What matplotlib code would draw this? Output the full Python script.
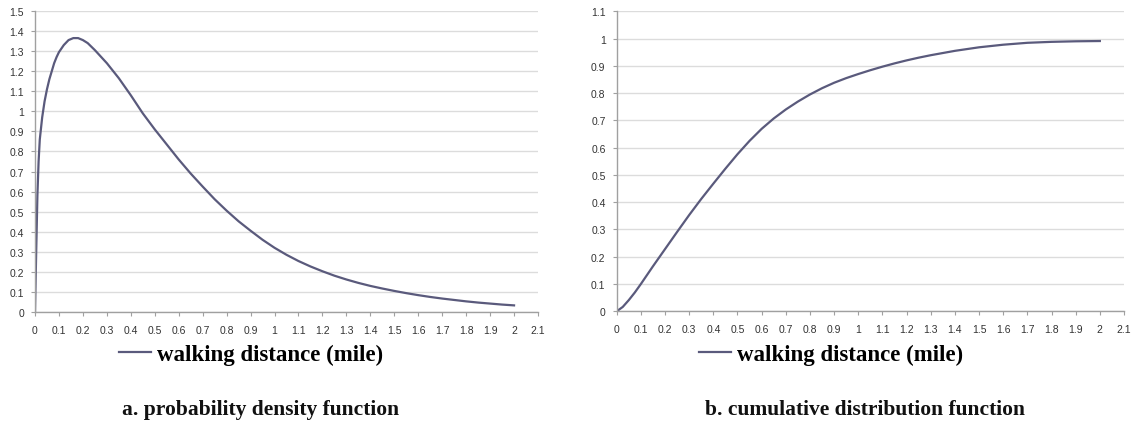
import matplotlib
matplotlib.use("Agg")
import matplotlib.pyplot as plt
from matplotlib.ticker import MultipleLocator, FuncFormatter

# ---- data ----
pdf_x = [0, 0.005, 0.01, 0.015, 0.02, 0.03, 0.04, 0.05, 0.06, 0.07, 0.08, 0.09,
         0.10, 0.12, 0.14, 0.16, 0.18, 0.20, 0.22, 0.25, 0.30, 0.35, 0.40,
         0.45, 0.50, 0.55, 0.60, 0.65, 0.70, 0.75, 0.80, 0.85, 0.90, 0.95,
         1.00, 1.05, 1.10, 1.15, 1.20, 1.25, 1.30, 1.35, 1.40, 1.45, 1.50,
         1.55, 1.60, 1.65, 1.70, 1.75, 1.80, 1.85, 1.90, 1.95, 2.00]
pdf_y = [0, 0.30, 0.58, 0.75, 0.86, 0.97, 1.05, 1.11, 1.16, 1.20, 1.24, 1.27,
         1.295, 1.33, 1.355, 1.365, 1.365, 1.355, 1.34, 1.305, 1.24, 1.165,
         1.08, 0.99, 0.91, 0.835, 0.76, 0.69, 0.625, 0.562, 0.505, 0.452,
         0.405, 0.36, 0.32, 0.285, 0.254, 0.227, 0.203, 0.181, 0.162, 0.145,
         0.130, 0.117, 0.105, 0.094, 0.084, 0.075, 0.067, 0.060, 0.053,
         0.047, 0.042, 0.037, 0.033]

cdf_x = [0, 0.025, 0.05, 0.075, 0.10, 0.15, 0.20, 0.25, 0.30, 0.35, 0.40, 0.45,
         0.50, 0.55, 0.60, 0.65, 0.70, 0.75, 0.80, 0.85, 0.90, 0.95, 1.00,
         1.05, 1.10, 1.15, 1.20, 1.25, 1.30, 1.40, 1.50, 1.60, 1.70, 1.80,
         1.90, 2.00]
cdf_y = [0, 0.016, 0.041, 0.069, 0.10, 0.165, 0.228, 0.291, 0.353, 0.412,
         0.468, 0.523, 0.576, 0.625, 0.669, 0.707, 0.740, 0.769, 0.795,
         0.818, 0.838, 0.855, 0.870, 0.884, 0.897, 0.909, 0.920, 0.930,
         0.939, 0.955, 0.968, 0.9775, 0.9845, 0.988, 0.990, 0.991]

series_label = "walking distance (mile)"
titles = ["a. probability density function", "b. cumulative distribution function"]

# ---- styling ----
LINE_C = "#5a5a7c"
GRID_C = "#dcdcdc"
AX_C = "#a0a0a0"
TXT_C = "#333333"
SERIF = ["Liberation Serif", "DejaVu Serif"]
SANS = ["Liberation Sans", "DejaVu Sans"]

W, H = 1135, 427
fig = plt.figure(figsize=(W / 100, H / 100), dpi=100)


def fmt(v, pos):
    s = f"{v:.1f}"
    if s.endswith(".0"):
        s = s[:-2]
    return s


def setup(ax, ymax):
    ax.set_xlim(0, 2.1)
    ax.set_ylim(0, ymax)
    ax.xaxis.set_major_locator(MultipleLocator(0.1))
    ax.yaxis.set_major_locator(MultipleLocator(0.1))
    ax.xaxis.set_major_formatter(FuncFormatter(fmt))
    ax.yaxis.set_major_formatter(FuncFormatter(fmt))
    ax.grid(axis="y", color=GRID_C, linewidth=1.0)
    ax.set_axisbelow(True)
    for s in ("top", "right"):
        ax.spines[s].set_visible(False)
    for s in ("left", "bottom"):
        ax.spines[s].set_color(AX_C)
        ax.spines[s].set_linewidth(1.0)
    ax.tick_params(axis="both", colors=AX_C, length=3, width=0.8,
                   labelsize=7.5, labelcolor=TXT_C)
    ax.tick_params(axis="x", pad=6)
    ax.tick_params(axis="y", pad=5)
    for lab in ax.get_xticklabels() + ax.get_yticklabels():
        lab.set_family(SANS)


ax1 = fig.add_axes([35 / W, 1 - 313 / H, 503 / W, 301 / H])
ax1.plot(pdf_x, pdf_y, color=LINE_C, linewidth=1.6, label=series_label,
         solid_joinstyle="round")
setup(ax1, 1.5)

ax2 = fig.add_axes([616.7 / W, 1 - 312.3 / H, 507.3 / W, 300 / H])
ax2.plot(cdf_x, cdf_y, color=LINE_C, linewidth=1.6, label=series_label,
         solid_joinstyle="round")
setup(ax2, 1.1)

leg_font = {"family": SERIF, "weight": "bold", "size": 16.5}
for ax, cx in ((ax1, 251), (ax2, 831)):
    ax.legend(loc="center", bbox_to_anchor=(cx / W, 1 - 355 / H),
              bbox_transform=fig.transFigure, frameon=False,
              prop=leg_font, handlelength=1.4, handletextpad=0.25,
              borderpad=0)

for t, cx in zip(titles, (261, 865)):
    fig.text(cx / W, 1 - 410 / H, t, ha="center", va="center",
             family=SERIF, weight="bold", fontsize=15.5, color="#111111")

fig.savefig("out.png", dpi=100)
